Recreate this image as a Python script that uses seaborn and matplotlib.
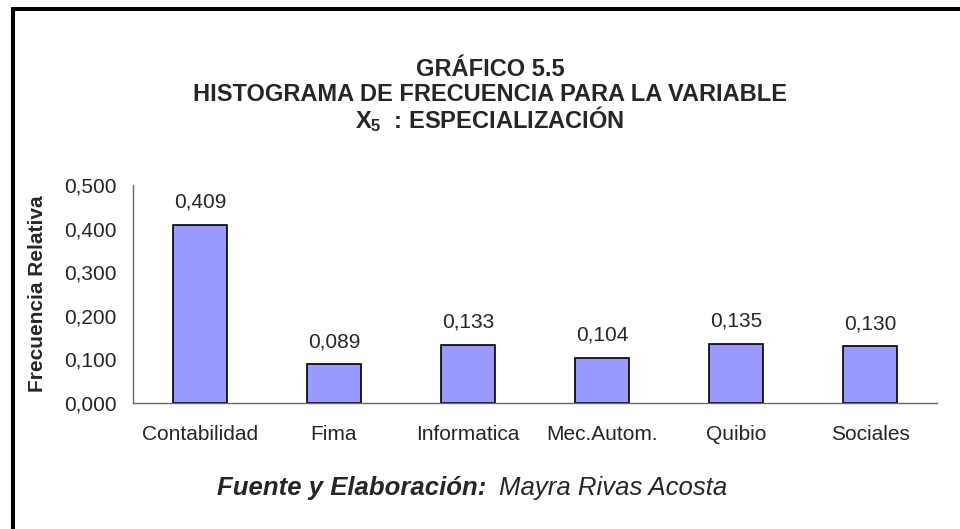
import matplotlib
matplotlib.use("Agg")
import pandas as pd
import seaborn as sns
import matplotlib.pyplot as plt
from matplotlib.lines import Line2D
from matplotlib.ticker import FixedLocator, FuncFormatter

# datos del grafico
categorias = ["Contabilidad", "Fima", "Informatica", "Mec.Autom.", "Quibio", "Sociales"]
frecuencias = [0.409, 0.089, 0.133, 0.104, 0.135, 0.130]
ticks_y = [0.0, 0.1, 0.2, 0.3, 0.4, 0.5]
titulo = ["GRÁFICO 5.5", "HISTOGRAMA DE FRECUENCIA PARA LA VARIABLE", "X$_5$  : ESPECIALIZACIÓN"]
eje_y = "Frecuencia Relativa"
fuente = "Fuente y Elaboración:"
autora = "Mayra Rivas Acosta"

sns.set_style("white")
plt.rcParams["font.family"] = ["Liberation Sans", "DejaVu Sans"]
plt.rcParams["mathtext.fontset"] = "custom"
plt.rcParams["mathtext.rm"] = "Liberation Sans:bold"
plt.rcParams["mathtext.it"] = "Liberation Sans:bold"
plt.rcParams["mathtext.bf"] = "Liberation Sans:bold"

def coma(v, pos=None):
    return f"{v:.3f}".replace(".", ",")

df = pd.DataFrame({"especialidad": categorias, "frecuencia": frecuencias})

W, H = 960, 529
fig = plt.figure(figsize=(9.6, 5.29), dpi=100)
ax = fig.add_axes([133 / W, 1 - 403 / H, 804 / W, 218 / H])

sns.barplot(data=df, x="especialidad", y="frecuencia", color="#9999FF", saturation=1,
            edgecolor="black", linewidth=1.2, width=0.4, ax=ax)

ax.set_xlim(-0.5, len(categorias) - 0.5)
ax.set_ylim(0, 0.5)
ax.set_yticks(ticks_y)
ax.yaxis.set_major_formatter(FuncFormatter(coma))
ax.set_xticks(range(len(categorias)), categorias)
ax.xaxis.set_minor_locator(FixedLocator([i - 0.5 for i in range(len(categorias) + 1)]))

gris = "#6a6a6a"
ax.tick_params(axis="x", which="major", length=0, pad=16, labelsize=15)
ax.tick_params(axis="x", which="minor", length=4, width=1, direction="out", color=gris)
ax.tick_params(axis="y", length=5, width=1, direction="out", color=gris, pad=7, labelsize=15)
ax.set_xlabel("")
ax.set_ylabel(eje_y, fontsize=15, fontweight="bold")
ax.yaxis.set_label_coords((47 - 133) / 804, 0.5)

ax.spines["top"].set_visible(False)
ax.spines["right"].set_visible(False)
for s in ["left", "bottom"]:
    ax.spines[s].set_color(gris)
    ax.spines[s].set_linewidth(1)
ax.grid(False)

ax.bar_label(ax.containers[0], labels=[coma(v) for v in frecuencias], padding=9.5, fontsize=15)

# titulo
for linea, y in zip(titulo, [70, 94.5, 119]):
    fig.text(490 / W, 1 - y / H, linea, ha="center", va="center", fontsize=17, fontweight="bold")

# pie
fig.text(486 / W, 1 - 488 / H, fuente, ha="right", va="center", fontsize=18.5,
         fontweight="bold", fontstyle="italic")
fig.text(499 / W, 1 - 488 / H, autora, ha="left", va="center", fontsize=18.5, fontstyle="italic")

# marco
fig.add_artist(Line2D([13 / W, 13 / W], [0, 1 - 7 / H], transform=fig.transFigure,
                      color="black", lw=2.9, solid_capstyle="butt"))
fig.add_artist(Line2D([11 / W, 1], [1 - 9 / H, 1 - 9 / H], transform=fig.transFigure,
                      color="black", lw=2.9, solid_capstyle="butt"))

fig.savefig("out.png", dpi=100)
